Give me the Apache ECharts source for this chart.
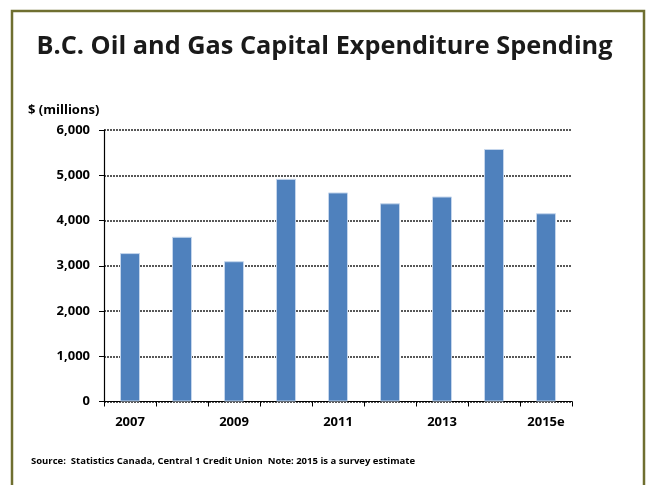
<!DOCTYPE html>
<html>
<head>
<meta charset="utf-8">
<script src="https://cdn.jsdelivr.net/npm/echarts@6/dist/echarts.min.js"></script>
<style>
html,body{margin:0;padding:0;background:#fff;}
#c{width:649px;height:485px;}
</style>
</head>
<body>
<div id="c"></div>
<script>
const categories = ['2007','2008','2009','2010','2011','2012','2013','2014','2015e'];
const spending = [3280, 3640, 3100, 4920, 4620, 4380, 4530, 5580, 4160];
const yTicks = [0, 1000, 2000, 3000, 4000, 5000, 6000];

const FONT = '"Open Sans", "Liberation Sans", sans-serif';
const chart = echarts.init(document.getElementById('c'), null, {renderer: 'canvas'});
chart.setOption({
  animation: false,
  backgroundColor: '#fff',
  title: {
    text: 'B.C. Oil and Gas Capital Expenditure Spending',
    left: 'center',
    top: 29,
    textStyle: {fontFamily: FONT, fontWeight: 'bold', fontSize: 25.3, color: '#1a1a1a'}
  },
  graphic: [
    {type: 'polyline', shape: {points: [[12, 485], [12, 11], [644, 11], [644, 485]]},
     style: {stroke: '#6f6f30', lineWidth: 2.5, fill: null}, silent: true},
    {type: 'text', left: 28, top: 104,
     style: {text: '$ (millions)', font: 'bold 13px ' + FONT, fill: '#000'}},
    {type: 'text', left: 31, top: 456,
     style: {text: 'Source:  Statistics Canada, Central 1 Credit Union  Note: 2015 is a survey estimate',
             font: 'bold 9.5px ' + FONT, fill: '#000'}}
  ],
  grid: {left: 104, right: 77, top: 130, bottom: 83.5, containLabel: false},
  xAxis: {
    type: 'category',
    data: categories,
    axisLine: {lineStyle: {color: '#000', width: 1.2}},
    axisTick: {show: true, interval: 0, length: 5, lineStyle: {color: '#000'}},
    axisLabel: {interval: 1, margin: 14, fontFamily: FONT, fontWeight: 'bold', fontSize: 13, color: '#000'}
  },
  yAxis: {
    type: 'value',
    min: yTicks[0],
    max: yTicks[yTicks.length - 1],
    interval: 1000,
    axisLine: {show: true, lineStyle: {color: '#000', width: 1.2}},
    axisTick: {show: true, length: 5, lineStyle: {color: '#000'}},
    axisLabel: {margin: 14, fontFamily: FONT, fontWeight: 'bold', fontSize: 13, color: '#000',
      formatter: v => v.toLocaleString('en-US')},
    splitLine: {show: true, lineStyle: {color: '#222', type: [2, 1], width: 1.5}}
  },
  series: [{
    type: 'bar',
    data: spending,
    barWidth: 20,
    itemStyle: {color: '#4f81bd', borderColor: '#c5d6ec', borderWidth: 1}
  }]
});
</script>
</body>
</html>
